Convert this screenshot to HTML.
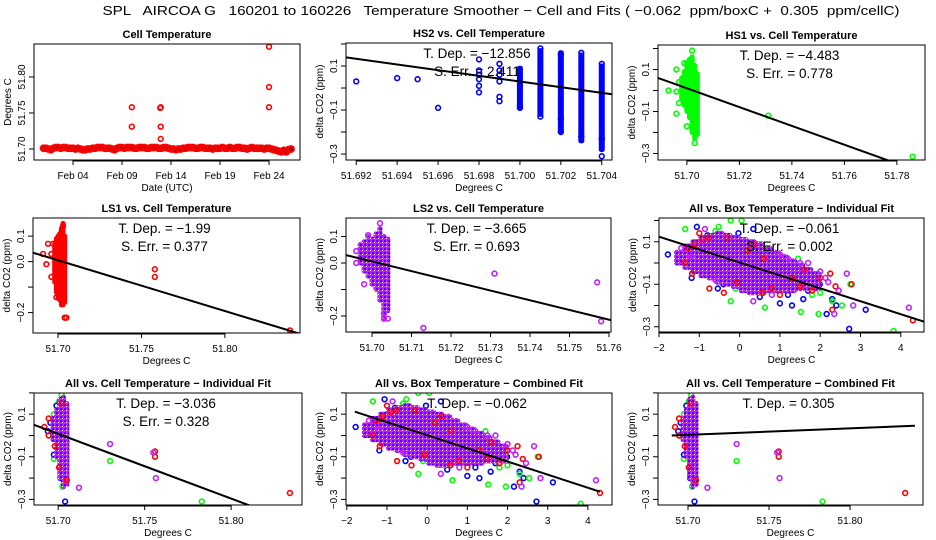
<!DOCTYPE html>
<html><head><meta charset="utf-8"><title>Temperature Smoother</title>
<style>
html,body{margin:0;padding:0;background:#fff;}
svg{display:block;font-family:"Liberation Sans",Arial,sans-serif;}
</style></head>
<body>
<svg id="chart" width="936" height="540" viewBox="0 0 936 540" xmlns="http://www.w3.org/2000/svg">
<defs>
<pattern id="mixfill" width="4" height="4" patternUnits="userSpaceOnUse">
<rect width="4" height="4" fill="#e010f0"/>
<rect x="0" y="0" width="2" height="2" fill="#3010ff"/>
<rect x="2" y="2" width="1" height="1" fill="#ffffff"/>
</pattern>
</defs>
<rect x="0" y="0" width="936" height="540" fill="#fff"/>
<text x="501" y="15" font-size="13" text-anchor="middle" style="white-space:pre" xml:space="preserve" textLength="797" lengthAdjust="spacingAndGlyphs">SPL   AIRCOA G   160201 to 160226   Temperature Smoother − Cell and Fits ( −0.062  ppm/boxC +  0.305  ppm/cellC)</text>
</svg>
<script>
// ---------- data ----------
const cellTempDays0 = 1.0; const cellTempStep = 0.25;
const cellTemp = [51.701,51.701,51.700,51.699, 51.701,51.702,51.702,51.701, 51.702,51.702,51.701,51.701, 51.701,51.700,51.701,51.700,
 51.699,51.699,51.700,51.700, 51.701,51.701,51.702,51.702, 51.702,51.701,51.701,51.701, 51.700,51.699,51.701,51.702,
 51.702,51.701,51.702,51.702, 51.702,51.701,51.701,51.702, 51.702,51.702,51.701,51.701, 51.702,51.702,51.702,51.701,
 51.701,51.702,51.702,51.701, 51.700,51.700,51.699,51.700, 51.700,51.701,51.701,51.702, 51.702,51.702,51.701,51.701,
 51.702,51.702,51.701,51.701, 51.701,51.700,51.701,51.701, 51.701,51.702,51.701,51.701, 51.702,51.701,51.701,51.702,
 51.702,51.701,51.701,51.700, 51.701,51.702,51.701,51.701, 51.701,51.701,51.700,51.701, 51.701,51.700,51.699,51.698,
 51.697,51.696,51.698,51.696, 51.699,51.700];
const cellOutDay = [10.0,10.0,12.95,12.95,12.95,12.9,24.0,24.0,24.0];
const cellOutVal = [51.758,51.731,51.758,51.731,51.714,51.757,51.842,51.786,51.758];
const dateTicks = [4,9,14,19,24];
const dateLabels = ['Feb 04','Feb 09','Feb 14','Feb 19','Feb 24'];

const hs2PtsX = [51.692,51.694,51.695,51.696,51.698,51.698,51.698,51.698,51.698,51.698,51.699,51.699,51.699,51.699,51.699,51.699,51.700,51.700,51.701,51.701,51.702,51.702,51.702,51.703,51.703,51.704,51.704,51.704];
const hs2PtsY = [0.03,0.045,0.04,-0.09,0.13,0.08,0.06,0.04,0.01,-0.02,0.11,0.08,0.06,0.03,-0.04,-0.06,-0.08,-0.09,0.18,-0.13,-0.2,-0.14,0.15,0.16,-0.22,-0.31,-0.23,0.11];
const hs2ColX = [51.700,51.701,51.702,51.703,51.704];
const hs2ColHi = [0.09,0.17,0.16,0.15,0.10];
const hs2ColLo = [-0.09,-0.12,-0.2,-0.24,-0.28];

const hs1PtsX = [51.693,51.696,51.696,51.696,51.697,51.699,51.700,51.702,51.703,51.731,51.786,51.700,51.697];
const hs1PtsY = [0.0,0.1,-0.005,-0.11,-0.06,0.13,-0.17,0.19,-0.25,-0.12,-0.315,0.13,0.04];
const hs1ColX = [51.698,51.699,51.700,51.701,51.702,51.703,51.704];
const hs1ColHi = [0.06,0.09,0.13,0.15,0.16,0.12,0.08];
const hs1ColLo = [-0.04,-0.07,-0.1,-0.13,-0.2,-0.23,-0.21];

const ls1PtsX = [51.691,51.693,51.694,51.696,51.696,51.699,51.703,51.704,51.705,51.758,51.758,51.839,51.697];
const ls1PtsY = [0.03,-0.01,0.07,0.03,-0.06,-0.14,0.14,-0.22,-0.22,-0.03,-0.06,-0.27,0.07];
const ls1ColX = [51.698,51.699,51.700,51.701,51.702,51.703,51.704];
const ls1ColHi = [0.07,0.09,0.10,0.11,0.13,0.15,0.10];
const ls1ColLo = [-0.08,-0.12,-0.14,-0.15,-0.17,-0.17,-0.16];

const ls2PtsX = [51.696,51.696,51.698,51.699,51.702,51.703,51.703,51.704,51.713,51.731,51.757,51.758];
const ls2PtsY = [0.045,0.0,-0.08,0.105,0.15,-0.19,-0.21,-0.21,-0.245,-0.04,-0.073,-0.22];
const ls2ColX = [51.697,51.698,51.699,51.700,51.701,51.702,51.703,51.704];
const ls2ColHi = [0.07,0.08,0.1,0.09,0.11,0.13,0.1,0.09];
const ls2ColLo = [0.0,-0.03,-0.05,-0.08,-0.1,-0.14,-0.21,-0.18];

const boxColX = [-1.5,-1.3,-1.1,-0.9,-0.7,-0.5,-0.3,-0.1,0.1,0.3,0.5,0.7,0.9,1.1,1.3,1.5,1.7,1.9];
const boxColHi = [0.05,0.08,0.1,0.12,0.13,0.14,0.13,0.12,0.11,0.1,0.09,0.07,0.05,0.03,0.01,-0.01,-0.03,-0.05];
const boxColLo = [0.0,-0.02,-0.04,-0.06,-0.07,-0.09,-0.1,-0.11,-0.13,-0.14,-0.14,-0.13,-0.13,-0.13,-0.13,-0.12,-0.12,-0.12];
const boxBlueX = [-1.78,-1.06,-1.19,-0.03,-0.54,1.0,1.3,2.16,2.4,3.13,2.72,1.58,0.68,0.34,-1.35,1.99,0.2,-0.8,-0.4,0.9,1.2,1.7,-1.0,0.5,2.3];
const boxBlueY = [0.04,0.17,-0.07,0.14,-0.12,-0.19,-0.2,-0.24,-0.2,-0.22,-0.31,-0.17,-0.12,0.16,0.015,-0.1,-0.12,0.13,-0.1,0.04,-0.15,-0.13,0.1,-0.16,-0.17];
const boxGreenX = [-1.35,-0.22,0.05,-0.52,-0.22,0.63,1.52,1.96,2.54,3.82,2.75,2.0,0.9,-1.18,1.56,1.45,-0.6,-0.1,0.4,1.1,1.8,-0.9,2.3];
const boxGreenY = [0.16,0.2,0.2,0.17,-0.18,-0.21,-0.23,-0.24,-0.2,-0.32,-0.1,-0.14,-0.05,0.05,-0.05,0.02,0.15,-0.12,-0.13,-0.08,-0.15,0.08,-0.18];
const boxRedX = [-1.35,-1.18,-0.75,-0.39,-0.06,-0.76,-1.0,1.6,2.0,2.25,2.38,2.3,1.8,4.3,0.35,1.0,2.78,0.58,-1.27,-0.9,-0.3,0.2,0.8,1.3,-1.1,1.5,0.6];
const boxRedY = [0.0,-0.05,-0.12,-0.14,-0.09,0.12,0.14,-0.03,-0.07,-0.05,-0.11,-0.22,-0.13,-0.27,0.09,-0.15,-0.1,-0.14,0.07,0.11,0.12,0.06,-0.12,-0.07,0.09,-0.11,0.02];
const boxMagX = [-1.45,2.66,2.82,4.2,1.5,1.7,2.35,0.34,2.13,2.46,1.0,-0.86,-1.2,2.0,2.2,1.2,-0.6,0.8];
const boxMagY = [0.07,-0.05,-0.2,-0.21,0.0,0.0,-0.24,-0.18,-0.07,-0.13,0.04,0.16,0.03,-0.04,-0.09,0.02,-0.08,-0.15];

const allColX = [51.697,51.699,51.701,51.703,51.705];
const allColHi = [0.08,0.12,0.17,0.18,0.15];
const allColLo = [-0.02,-0.1,-0.2,-0.24,-0.23];
const allGreenX = [51.702,51.7005,51.6975,51.6975,51.701,51.7025,51.730,51.783,51.6945];
const allGreenY = [0.19,0.16,0.1,-0.11,-0.155,-0.24,-0.12,-0.31,0.0];
const allBlueX = [51.699,51.6955,51.6975,51.7013,51.704,51.694];
const allBlueY = [0.14,0.06,-0.09,-0.2,-0.31,0.02];
const allRedX = [51.6945,51.692,51.6945,51.698,51.7005,51.705,51.756,51.756,51.834,51.702];
const allRedY = [0.08,0.04,0.0,-0.05,-0.15,-0.21,-0.075,-0.1,-0.27,0.15];
const allMagX = [51.712,51.730,51.755,51.7565];
const allMagY = [-0.245,-0.04,-0.08,-0.2];

// fits: anchor x, anchor y, slope
const fitAnchorX = [null,51.6915,51.689,51.685,51.6934,-2.0,51.686,-1.8,51.69];
const fitAnchorY = [null,0.139,0.06,0.035,0.03,0.124,0.05,0.112,0.0];
const fitSlope = [null,-12.856,-4.483,-1.99,-3.665,-0.0608,-3.036,-0.0616,0.305];
const tDepText = [null,'−12.856','−4.483','−1.99','−3.665','−0.061','−3.036','−0.062','0.305'];
const sErrText = [null,'2.411','0.778','0.377','0.693','0.002','0.328',null,null];

// ---------- helpers ----------
const NS='http://www.w3.org/2000/svg';
const svg=document.getElementById('chart');
function mk(tag, attrs, parent){
  const e=document.createElementNS(NS,tag);
  for(const k in attrs) e.setAttribute(k,attrs[k]);
  (parent||svg).appendChild(e);
  return e;
}
function fmtNeg(v,d){ const s=Math.abs(v).toFixed(d); return v<-1e-9?'−'+s:s; }

const panels = [
 {name:'cell-temperature',title:'Cell Temperature',tw:89,x0:34,x1:300,y0:44,y1:160,xd:[0.02,27.16],yd:[51.6847,51.8458],
  xt:dateTicks,xl:dateLabels,yt:[51.70,51.75,51.80],yl:[51.70,51.75,51.80],yd2:2,xtitle:'Date (UTC)',ytitle:'Degrees C'},
 {name:'hs2-vs-cell',title:'HS2 vs. Cell Temperature',tw:132,x0:346,x1:612,y0:43,y1:160,xd:[51.6915,51.7045],yd:[-0.327,0.2045],
  xt:[51.692,51.694,51.696,51.698,51.700,51.702,51.704],xd2:3,yt:[-0.3,-0.2,-0.1,0,0.1,0.2],yl:[0.1,-0.1,-0.3],yd2:1},
 {name:'hs1-vs-cell',title:'HS1 vs. Cell Temperature',tw:132,x0:658,x1:925,y0:45,y1:160,xd:[51.689,51.7907],yd:[-0.331,0.2167],
  xt:[51.70,51.72,51.74,51.76,51.78],xd2:2,yt:[-0.3,-0.2,-0.1,0,0.1,0.2],yl:[0.1,-0.1,-0.3],yd2:1},
 {name:'ls1-vs-cell',title:'LS1 vs. Cell Temperature',tw:130,x0:33,x1:300,y0:218,y1:333,xd:[51.685,51.845],yd:[-0.2802,0.1712],
  xt:[51.70,51.75,51.80],xd2:2,yt:[-0.2,-0.1,0,0.1],yl:[0.1,0.0,-0.2],yd2:1},
 {name:'ls2-vs-cell',title:'LS2 vs. Cell Temperature',tw:131,x0:346,x1:611,y0:218,y1:332,xd:[51.6934,51.7605],yd:[-0.2604,0.1698],
  xt:[51.70,51.71,51.72,51.73,51.74,51.75,51.76],xd2:2,yt:[-0.2,-0.1,0,0.1],yl:[0.1,0.0,-0.2],yd2:1},
 {name:'all-vs-box-individual',title:'All vs. Box Temperature − Individual Fit',tw:205,x0:659,x1:924,y0:218,y1:332,xd:[-2,4.576],yd:[-0.3247,0.2118],
  xt:[-2,-1,0,1,2,3,4],xd2:0,yt:[-0.3,-0.2,-0.1,0,0.1,0.2],yl:[0.1,-0.1,-0.3],yd2:1},
 {name:'all-vs-cell-individual',title:'All vs. Cell Temperature − Individual Fit',tw:206,x0:34,x1:302,y0:393,y1:505,xd:[51.686,51.841],yd:[-0.3263,0.1995],
  xt:[51.70,51.75,51.80],xd2:2,yt:[-0.3,-0.2,-0.1,0,0.1,0.2],yl:[0.1,-0.1,-0.3],yd2:1},
 {name:'all-vs-box-combined',title:'All vs. Box Temperature − Combined Fit',tw:208,x0:346,x1:612,y0:393,y1:505,xd:[-2.02,4.6],yd:[-0.3263,0.1995],
  xt:[-2,-1,0,1,2,3,4],xd2:0,yt:[-0.3,-0.2,-0.1,0,0.1,0.2],yl:[0.1,-0.1,-0.3],yd2:1},
 {name:'all-vs-cell-combined',title:'All vs. Cell Temperature − Combined Fit',tw:209,x0:658,x1:923,y0:393,y1:505,xd:[51.6815,51.845],yd:[-0.3263,0.1995],
  xt:[51.70,51.75,51.80],xd2:2,yt:[-0.3,-0.2,-0.1,0,0.1,0.2],yl:[0.1,-0.1,-0.3],yd2:1}
];

function setupPanel(i){
  const p=panels[i];
  const g=mk('g',{});
  
  
  p.g=g;
  p.sx=v=>p.x0+(v-p.xd[0])/(p.xd[1]-p.xd[0])*(p.x1-p.x0);
  p.sy=v=>p.y1-(v-p.yd[0])/(p.yd[1]-p.yd[0])*(p.y1-p.y0);
  const cp=mk('clipPath',{id:'clip'+i},g);
  mk('rect',{x:p.x0,y:p.y0,width:p.x1-p.x0,height:p.y1-p.y0},cp);
  p.marks=mk('g',{'clip-path':'url(#clip'+i+')'},g);
  
  
  const cx=(p.x0+p.x1)/2;
  const t=mk('text',{x:cx,y:p.y0-6,'font-size':11,'font-weight':'bold','text-anchor':'middle',textLength:p.tw,lengthAdjust:'spacingAndGlyphs'},g);
  t.textContent=p.title;
  
  
  p.xt.forEach((v,k)=>{
    const x=p.sx(v);
    const tk=mk('line',{x1:x,x2:x,y1:p.y1,y2:p.y1+5,stroke:'#000','stroke-width':1},g);
    
    
    const lb=mk('text',{x:x,y:p.y1+19,'font-size':10,'text-anchor':'middle'},g);
    lb.textContent=p.xl?p.xl[k]:fmtNeg(v,p.xd2);
    
    
  });
  const xa=mk('line',{x1:p.sx(p.xt[0]),x2:p.sx(p.xt[p.xt.length-1]),y1:p.y1+1,y2:p.y1+1,stroke:'#000'},g);
  
  
  p.yt.forEach(v=>{
    const y=p.sy(v);
    const tk=mk('line',{x1:p.x0-5,x2:p.x0,y1:y,y2:y,stroke:'#000','stroke-width':1},g);
    
    
  });
  p.yl.forEach(v=>{
    const y=p.sy(v); const xx=p.x0-9;
    const lb=mk('text',{x:xx,y:y,'font-size':10,'text-anchor':'middle',transform:'rotate(-90 '+xx+' '+y+')'},g);
    lb.textContent=fmtNeg(v,p.yd2);
    
    
  });
  const xt=mk('text',{x:cx,y:p.y1+31,'font-size':10,'text-anchor':'middle'},g);
  xt.textContent=p.xtitle||'Degrees C';
  
  
  const yx=p.x0-23, yy=(p.y0+p.y1)/2;
  const yt=mk('text',{x:yx,y:yy,'font-size':10,'text-anchor':'middle',transform:'rotate(-90 '+yx+' '+yy+')'},g);
  yt.textContent=p.ytitle||'delta CO2 (ppm)';
  
  
  const box=mk('rect',{x:p.x0,y:p.y0,width:p.x1-p.x0,height:p.y1-p.y0,fill:'none',stroke:'#000','stroke-width':1},g);
  
  
  return p;
}

function drawCols(p,xs,hi,lo,fill,w){
  xs.forEach((x,k)=>{
    const top=p.sy(hi[k])-2.5, bot=p.sy(lo[k])+2.5;
    const r=mk('rect',{x:p.sx(x)-w/2,y:top,width:w,height:bot-top,rx:2.5,fill:fill,stroke:'none'},p.marks);
    
    
  });
}
function drawPts(p,xs,ys,color){
  xs.forEach((x,k)=>{
    const c=mk('circle',{cx:p.sx(x),cy:p.sy(ys[k]),r:2.4,fill:'none',stroke:color,'stroke-width':1.6},p.marks);
    
    
  });
}
function drawFit(i,xa,xb){
  const p=panels[i];
  const f=v=>fitAnchorY[i]+fitSlope[i]*(v-fitAnchorX[i]);
  const l=mk('line',{x1:p.sx(xa),y1:p.sy(f(xa)),x2:p.sx(xb),y2:p.sy(f(xb)),stroke:'#000','stroke-width':2},p.marks);
  
  
}
function drawStats(i){
  const p=panels[i]; const cx=(p.x0+p.x1)/2-2;
  const t1=mk('text',{x:cx,y:p.y0+15,'font-size':13.5,'text-anchor':'middle'},p.g);
  t1.textContent='T. Dep. =  '+tDepText[i];
  
  
  if(sErrText[i]){
    const t2=mk('text',{x:cx,y:p.y0+33,'font-size':13.5,'text-anchor':'middle'},p.g);
    t2.textContent='S. Err. =  '+sErrText[i];
    
    
  }
}

const MIX='url(#mixfill)', MAG='#c020ff';
const p0=setupPanel(0);
cellTemp.forEach((v,k)=>{
  const c=mk('circle',{cx:p0.sx(cellTempDays0+k*cellTempStep),cy:p0.sy(v),r:3,fill:'#a00000',stroke:'#ff0000','stroke-width':1.8},p0.marks);
  
  
});
drawPts(p0,cellOutDay,cellOutVal,'#ff0000');

const p1=setupPanel(1);
drawCols(p1,hs2ColX,hs2ColHi,hs2ColLo,'#0000ff',6);
drawPts(p1,hs2PtsX,hs2PtsY,'#0000ff');
drawFit(1,p1.xd[0],p1.xd[1]); drawStats(1);

const p2=setupPanel(2);
drawCols(p2,hs1ColX,hs1ColHi,hs1ColLo,'#00ff00',5);
drawPts(p2,hs1PtsX,hs1PtsY,'#00ff00');
drawFit(2,p2.xd[0],p2.xd[1]); drawStats(2);

const p3=setupPanel(3);
drawCols(p3,ls1ColX,ls1ColHi,ls1ColLo,'#ff0000',5);
drawPts(p3,ls1PtsX,ls1PtsY,'#ff0000');
drawFit(3,p3.xd[0],p3.xd[1]); drawStats(3);

const p4=setupPanel(4);
drawCols(p4,ls2ColX,ls2ColHi,ls2ColLo,MIX,5);
drawPts(p4,ls2PtsX,ls2PtsY,MAG);
drawFit(4,p4.xd[0],p4.xd[1]); drawStats(4);

function boxCloud(p){
  drawPts(p,boxBlueX,boxBlueY,'#0000ff');
  drawPts(p,boxGreenX,boxGreenY,'#00ff00');
  drawCols(p,boxColX,boxColHi,boxColLo,MIX,10);
  drawPts(p,boxRedX,boxRedY,'#ff0000');
  drawPts(p,boxMagX,boxMagY,MAG);
}
function cellCloud(p){
  drawPts(p,allGreenX,allGreenY,'#00ff00');
  drawPts(p,allBlueX,allBlueY,'#0000ff');
  drawCols(p,allColX,allColHi,allColLo,MIX,5);
  drawPts(p,allRedX,allRedY,'#ff0000');
  drawPts(p,allMagX,allMagY,MAG);
}
const p5=setupPanel(5); boxCloud(p5); drawFit(5,p5.xd[0],p5.xd[1]); drawStats(5);
const p6=setupPanel(6); cellCloud(p6); drawFit(6,p6.xd[0],p6.xd[1]); drawStats(6);
const p7=setupPanel(7); boxCloud(p7); drawFit(7,-1.8,4.3); drawStats(7);
const p8=setupPanel(8); cellCloud(p8); drawFit(8,51.69,51.84); drawStats(8);
</script>
</body></html>
